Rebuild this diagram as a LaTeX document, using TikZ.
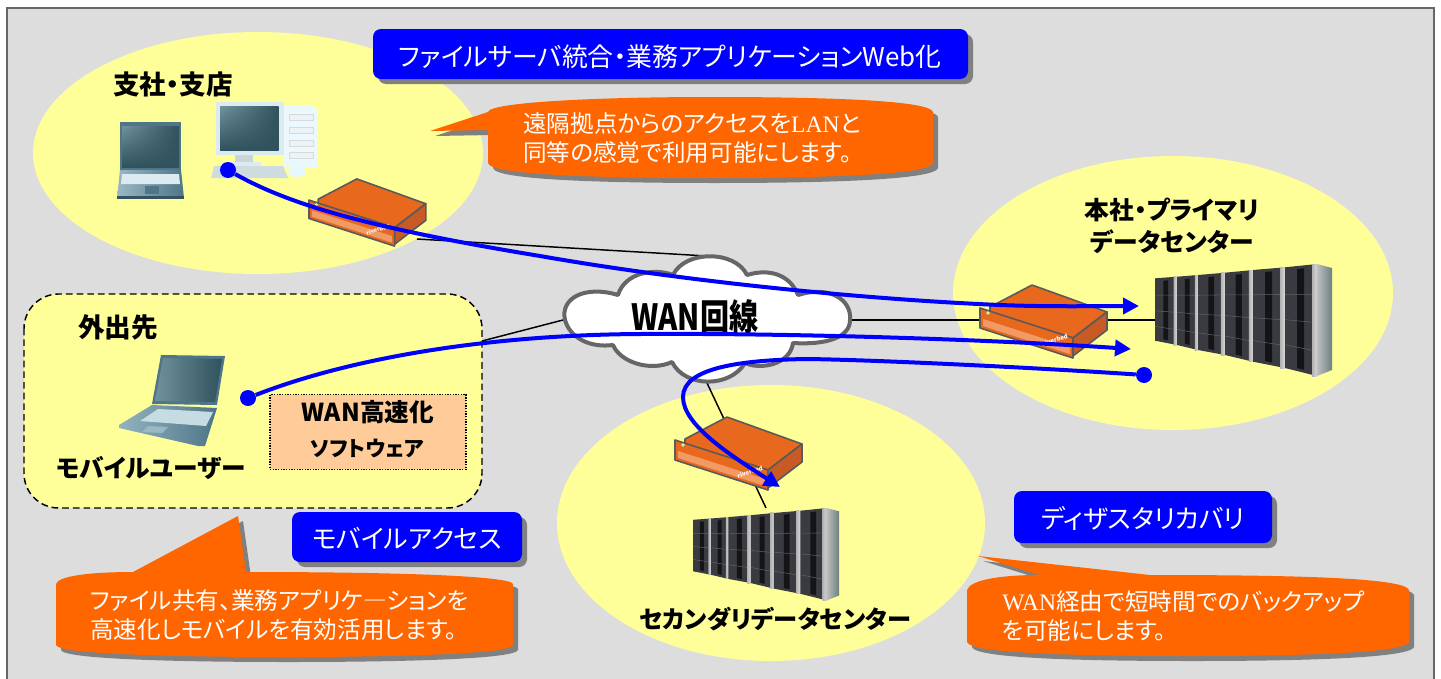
\documentclass[tikz,border=0pt]{standalone}
\usepackage{fontspec}
\setmainfont{Noto Sans CJK JP}[RawFeature=+palt]
\newfontfamily\serf{Liberation Serif}
\usetikzlibrary{arrows.meta,shapes.geometric,shadings}
\definecolor{panelgray}{HTML}{DDDDDD}
\definecolor{framegray}{HTML}{666666}
\definecolor{siteyellow}{HTML}{FFFF99}
\definecolor{calloutor}{HTML}{FF6600}
\definecolor{shadowgr}{HTML}{808080}
\definecolor{peach}{HTML}{FFCC99}
\definecolor{routeror}{HTML}{E8681E}
\definecolor{routerside}{HTML}{C85A25}
\definecolor{routerlt}{HTML}{F29A64}
\definecolor{routerln}{HTML}{5A5A5A}
\definecolor{scrdark}{HTML}{2F525C}
\definecolor{scrlt}{HTML}{6F929C}
\definecolor{lapbody}{HTML}{6F99AB}
\definecolor{lapdark}{HTML}{4E7588}
\definecolor{paleblue}{HTML}{DCEBF0}
\definecolor{rackdark}{HTML}{3A3B40}
\definecolor{rackblack}{HTML}{141418}
\definecolor{rackline}{HTML}{5E6064}
\tikzset{
  x=0.75pt,y=-0.75pt,
  site/.style={fill=siteyellow,draw=none},
  wire/.style={draw=black,line width=1.1pt},
  flow/.style={draw=blue,line width=3pt},
  flowtip/.style={flow,-{Triangle[length=12pt,width=12pt,fill=blue]}},
  flowdot/.style={circle,fill=blue,inner sep=0pt,minimum size=12pt},
  title/.style={font=\fontsize{18.5}{20}\selectfont\bfseries,inner sep=0pt,align=center,text=black},
  bluebox/.style={fill=blue,rounded corners=6pt},
  boxshadow/.style={fill=shadowgr,rounded corners=6pt},
  bluetext/.style={font=\fontsize{19.4}{22}\selectfont,text=white,inner sep=0pt},
  calltext/.style={font=\fontsize{17.7}{21.7}\selectfont,text=white,inner sep=0pt,align=left,anchor=west},
  router/.pic={
    \fill[routeror,draw=routerln,line width=1.2pt,line join=round] (10,23)--(52,1)--(127,28)--(93,54)--(10,28)--cycle;
    \fill[routerside,draw=routerln,line width=1.2pt,line join=round] (93,54)--(127,28)--(127,46)--(93,72)--cycle;
    \fill[routeror,draw=routerln,line width=1.2pt,line join=round] (0,24)--(93,54)--(93,74)--(0,44)--cycle;
    \fill[routerlt] (3,35)--(90,63)--(90,70)--(3,42)--cycle;
    \fill[white!70!green] (8,29) circle (1.8);
    \node[rotate=17,text=white,inner sep=0pt,font=\fontsize{4.5}{5}\selectfont\bfseries,transform shape] at (75,56) {riverbed};
  },
  rackset/.pic={
    \foreach \xa/\xb/\ta/\tb/\ba/\bb in {0/22/14.3/12.7/76.7/81, 22/43/12.7/11/81/86, 43/70/11/8.7/86/91, 70/98/8.7/6/91/97.7, 98/130/6/3.3/97.7/104, 130/162/3.3/0/104/112}{
      \fill[rackdark] (\xa,\ta)--(\xb,\tb)--(\xb,\bb)--(\xa,\ba)--cycle;
      \pgfmathsetmacro{\ca}{\xa+0.38*(\xb-\xa)}
      \pgfmathsetmacro{\cb}{\xa+0.6*(\xb-\xa)}
      \pgfmathsetmacro{\ga}{\xb-0.15*(\xb-\xa)}
      \pgfmathsetmacro{\tc}{\ta+0.38*(\tb-\ta)}
      \pgfmathsetmacro{\td}{\ta+0.6*(\tb-\ta)}
      \pgfmathsetmacro{\bc}{\ba+0.38*(\bb-\ba)}
      \pgfmathsetmacro{\bd}{\ba+0.6*(\bb-\ba)}
      \fill[rackblack] (\ca,\tc+3)--(\cb,\td+3)--(\cb,\bd-3)--(\ca,\bc-3)--cycle;
      \foreach \f in {0.27,0.52,0.77}{
        \pgfmathsetmacro{\la}{\ta+\f*(\ba-\ta)}
        \pgfmathsetmacro{\lb}{\tb+\f*(\bb-\tb)}
        \draw[rackline,line width=0.4pt] (\xa,\la)--(\ga,\lb);
      }
      \shade[left color=gray!60,right color=white!85!black] (\ga,\tb)--(\xb,\tb)--(\xb,\bb)--(\ga,\bb)--cycle;
    }
    \shade[left color=white!75!black,right color=gray!85!teal] (162,0)--(177,4)--(177,106)--(162,112)--cycle;
  },
  laptopfront/.pic={
    \fill[lapdark] (3,0)--(64,0)--(64,48)--(3,48)--cycle;
    \shade[upper left=scrlt,upper right=scrdark,lower left=scrdark,lower right=scrdark] (5,4) rectangle (62,45);
    \shade[left color=lapbody!70!white,right color=lapdark] (3,48)--(64,48)--(67,76)--(0,76)--cycle;
    \fill[paleblue] (5,52)--(62,52)--(63,62)--(4,62)--cycle;
    \fill[lapdark] (28,64) rectangle (42,72);
    \fill[lapdark!70!black] (0,74) rectangle (67,77);
  },
  desktoppc/.pic={
    \fill[white!92!cyan] (73,3)--(100,3)--(106,7)--(106,65)--(73,65)--cycle;
    \foreach \yy in {12,25,38,50}{\draw[gray!30,line width=0.4pt,fill=paleblue!60!white] (78,\yy) rectangle (102,\yy+6);}
    \fill[paleblue!80!gray] (24,52) rectangle (42,62);
    \fill[paleblue] (17,60) rectangle (50,65);
    \fill[paleblue] (5,0) rectangle (73,53);
    \shade[upper left=scrlt,upper right=scrdark,lower left=scrdark,lower right=scrdark] (9,4.5) rectangle (67.7,48);
    \fill[paleblue!85!gray] (3,64)--(72,64)--(77,76)--(0,76)--cycle;
    \fill[white!90!cyan] (86,70) ellipse (9 and 5);
  },
  laptopside/.pic={
    \fill[lapdark] (43,0)--(107,1)--(99,50)--(34,49)--cycle;
    \shade[left color=scrlt,right color=scrdark] (45,3)--(104,4)--(97,47)--(37,46)--cycle;
    \shade[left color=lapbody!75!white,right color=lapdark] (1,70)--(34,50)--(99,53)--(87,91)--(80,91)--(1,73)--cycle;
    \fill[paleblue!80!lapbody] (40,54)--(95,57)--(88,71)--(22,66)--cycle;
    \fill[lapbody!70!white] (30,71)--(50,72)--(44,78)--(24,77)--cycle;
  }
}
\begin{document}
\begin{tikzpicture}
\useasboundingbox (0,0) rectangle (1441,678);
\fill[white] (0,0) rectangle (1441,678);
\draw[framegray,fill=panelgray,line width=1.5pt] (7,8) -- (1433.5,8) -- (1433.5,690) -- (7,690) -- cycle;

% sites
\fill[site] (258,153) ellipse (225 and 121);
\fill[site] (1173,293) ellipse (220 and 137);
\fill[site] (771,523) ellipse (214 and 138);
\draw[site,draw=black,line width=1.1pt,rounded corners=26pt,dash pattern=on 5pt off 3pt] (24,294) rectangle (482,508);
\node[fill=peach,draw=black,densely dotted,line width=1pt,minimum width=147pt,minimum height=56pt,inner sep=0pt] (wansoft) at (368,432) {};

% wires
\coordinate (r1port) at (417,239);
\coordinate (cloudtop) at (707,256);
\coordinate (mobilegate) at (482,341);
\coordinate (cloudleft) at (563,320);
\coordinate (cloudright) at (851,320);
\coordinate (rack1port) at (1155,320);
\coordinate (cloudbot) at (707,383);
\coordinate (rack2port) at (766,508);
\draw[wire] (r1port) -- (cloudtop);
\draw[wire] (mobilegate) -- (cloudleft);
\draw[wire] (cloudright) -- (rack1port);
\draw[wire] (cloudbot) -- (rack2port);

% equipment
\pic[scale=0.92] at (309,178) {router};
\pic at (980,284) {router};
\pic at (675,416) {router};
\pic at (1155,264) {rackset};
\pic[scale=0.825] at (693,508) {rackset};
\pic at (117,122) {laptopfront};
\pic at (211,102) {desktoppc};
\pic at (118,355) {laptopside};

% cloud
\draw[framegray,fill=white,line width=3pt,line join=round]
 (565,320) .. controls (560,298) and (585,285) .. (618,295)
 .. controls (625,272) and (655,268) .. (673,275)
 .. controls (685,250) and (735,250) .. (747,275)
 .. controls (770,268) and (790,275) .. (798,295)
 .. controls (830,285) and (852,300) .. (850,320)
 .. controls (850,338) and (825,345) .. (793,343)
 .. controls (790,365) and (760,370) .. (745,363)
 .. controls (730,388) and (685,388) .. (672,362)
 .. controls (650,372) and (620,362) .. (613,345)
 .. controls (590,348) and (570,338) .. (565,320) -- cycle;
\node[font=\fontsize{26}{30}\selectfont\bfseries,inner sep=0pt] (wan) at (695,317) {\scalebox{0.84}[1.04]{WAN回線}};

% labels
\node[title,font=\fontsize{19.9}{22}\selectfont\bfseries] (branch) at (173,84) {支社・支店};
\node[title,font=\fontsize{18.6}{21}\selectfont\bfseries] (hq) at (1172,226) {本社・プライマリ\\[3pt]データセンター};
\node[title,font=\fontsize{20}{22}\selectfont\bfseries] (out) at (118,327) {外出先};
\node[title] (mobile) at (151,468) {モバイルユーザー};
\node[title,font=\fontsize{18.2}{20}\selectfont\bfseries] (second) at (775,619) {セカンダリデータセンター};
\node[title] (wana) at (368,412) {WAN高速化};
\node[title,font=\fontsize{15.8}{18}\selectfont\bfseries] (wanb) at (367,449) {ソフトウェア};

% flows
\node[flowdot] (d1) at (228,170) {};
\node[flowdot] (d2) at (248,398) {};
\node[flowdot] (d3) at (1144,375) {};
\coordinate (t1) at (1139,306);
\coordinate (t2) at (1131,349);
\coordinate (t3) at (780,487);
\draw[flowtip] (d1) .. controls (290,205) and (370,228) .. (540,256)
  .. controls (700,284) and (880,300) .. (1000,305) .. controls (1050,307) and (1100,306) .. (t1);
\draw[flowtip] (d2) .. controls (345,360) and (480,335) .. (640,334)
  .. controls (800,333) and (1000,340) .. (t2);
\draw[flowtip] (d3) .. controls (1040,368) and (880,360) .. (807,359)
  .. controls (740,360) and (683,368) .. (683,397)
  .. controls (683,425) and (730,455) .. (t3);

% tag boxes
\fill[boxshadow] (378,34) rectangle (973,84);
\fill[bluebox] (373,29) rectangle (968,79);
\node[bluetext] (tag1) at (670,57) {ファイルサーバ統合・業務アプリケーションWeb化};
\fill[boxshadow] (297,517) rectangle (527,567);
\fill[bluebox] (292,512) rectangle (522,562);
\node[bluetext] (tag2) at (407,538) {モバイルアクセス};
\fill[boxshadow] (1019,496) rectangle (1277,548);
\fill[bluebox] (1014,491) rectangle (1272,543);
\node[bluetext] (tag3) at (1143,518) {ディザスタリカバリ};

% callouts
\def\CallA{(488,130) -- (430,131) -- (488,112) .. controls (490,102) and (600,97) .. (710,97)
  .. controls (820,97) and (930,100) .. (933,112) -- (933,163)
  .. controls (930,175) and (820,178) .. (710,178) .. controls (600,178) and (490,175) .. (488,163) -- cycle}
\def\CallB{(133,572) -- (238,516) -- (246,572) .. controls (400,572) and (510,576) .. (513,584) -- (513,645)
  .. controls (510,654) and (400,657) .. (284,657) .. controls (170,657) and (58,654) .. (56,645) -- (56,584)
  .. controls (58,576) and (90,572) .. (133,572) -- cycle}
\def\CallC{(1039,575) -- (978,556) -- (1150,575) .. controls (1300,575) and (1405,578) .. (1409,590) -- (1409,642)
  .. controls (1405,653) and (1300,656) .. (1188,656) .. controls (1070,656) and (970,653) .. (967,642) -- (967,590)
  .. controls (970,580) and (1000,575) .. (1039,575) -- cycle}
\fill[shadowgr,shift={(5,5)}] \CallA;
\fill[calloutor] \CallA;
\fill[shadowgr,shift={(5,5)}] \CallB;
\fill[calloutor] \CallB;
\fill[shadowgr,shift={(5,5)}] \CallC;
\fill[calloutor] \CallC;
\node[calltext] (note1) at (523,138) {遠隔拠点からのアクセスを{\serf LAN}と\\同等の感覚で利用可能にします。};
\node[calltext] (note2) at (90,615) {ファイル共有、業務アプリケ―ションを\\高速化しモバイルを有効活用します。};
\node[calltext] (note3) at (1002,616) {{\serf WAN}経由で短時間でのバックアップ\\を可能にします。};
\end{tikzpicture}
\end{document}
